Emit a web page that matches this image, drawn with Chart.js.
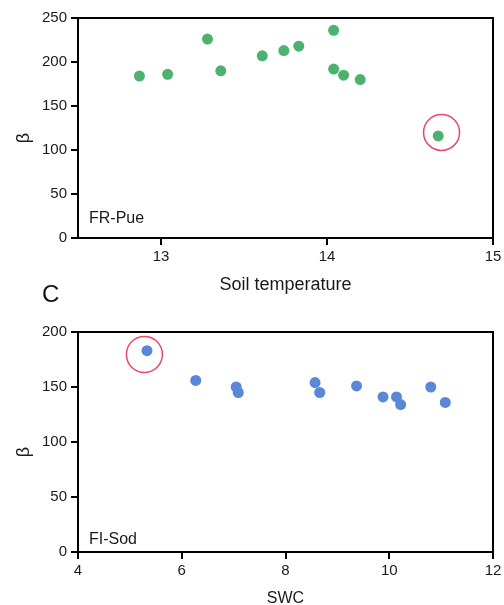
<!DOCTYPE html>
<html>
<head>
<meta charset="utf-8">
<script src="https://cdn.jsdelivr.net/npm/chart.js@4"></script>
<style>
  html, body { margin: 0; padding: 0; background: #fff; }
  body { width: 504px; height: 605px; position: relative; overflow: hidden; font-family: "Liberation Sans", Arial, sans-serif; }
  .box { position: absolute; left: 0; width: 504px; }
  #panelC { position: absolute; left: 42px; top: 280px; font-size: 24px; line-height: 1.15; color: #111; }
</style>
</head>
<body>
<div class="box" style="top:0;height:300px"><canvas id="tempChart" width="504" height="300"></canvas></div>
<div class="box" style="top:300px;height:320px"><canvas id="swcChart" width="504" height="320"></canvas></div>
<div id="panelC">C</div>

<script>
    // FR-Pue : beta vs temperature du sol
    const tempX    = [12.87, 13.04, 13.28, 13.36, 13.61, 13.74, 13.83, 14.04, 14.04, 14.10, 14.20, 14.67];
    const tempBeta = [184, 186, 226, 190, 207, 213, 218, 236, 192, 185, 180, 116];
    const tempOutlier = [{ x: 14.69, y: 120 }];
    const tempXTicks = [13, 14, 15];
    const tempYTicks = [0, 50, 100, 150, 200, 250];

    // FI-Sod : beta vs SWC
    const swcX    = [5.33, 6.27, 7.05, 7.09, 8.57, 8.66, 9.37, 9.88, 10.14, 10.22, 10.80, 11.08];
    const swcBeta = [183, 156, 150, 145, 154, 145, 151, 141, 141, 134, 150, 136];
    const swcOutlier = [{ x: 5.28, y: 179.5 }];
    const swcXTicks = [4, 6, 8, 10, 12];
    const swcYTicks = [0, 50, 100, 150, 200];

    const FONT = '"Liberation Sans", Arial, sans-serif';
    const INK = '#1a1a1a';

    // cadre complet + nom du site dans le coin
    const framePlugin = {
        id: 'frame',
        afterDraw(chart, args, opts) {
            const { ctx, chartArea: a } = chart;
            ctx.save();
            ctx.strokeStyle = '#000';
            ctx.lineWidth = 2;
            ctx.strokeRect(a.left, a.top, a.right - a.left, a.bottom - a.top);
            ctx.fillStyle = INK;
            ctx.font = '16px ' + FONT;
            ctx.textBaseline = 'middle';
            ctx.fillText(opts.tag, a.left + 11, a.bottom - opts.tagLift);
            ctx.restore();
        }
    };

    function axisGrid() {
        return { display: true, drawOnChartArea: false, drawTicks: true, tickLength: 7, tickWidth: 2, tickColor: '#000', lineWidth: 2 };
    }

    function makeChart(id, o) {
        return new Chart(document.getElementById(id), {
            type: 'scatter',
            data: {
                datasets: [
                    {
                        data: o.x.map((x, i) => ({ x, y: o.y[i] })),
                        backgroundColor: o.color,
                        borderWidth: 0,
                        pointRadius: 5.5,
                        pointHoverRadius: 5.5
                    },
                    {
                        data: o.outlier,
                        backgroundColor: 'rgba(0,0,0,0)',
                        borderColor: '#e8486b',
                        borderWidth: 1.5,
                        pointRadius: 18,
                        pointHoverRadius: 18
                    }
                ]
            },
            options: {
                responsive: false,
                animation: false,
                events: [],
                layout: { autoPadding: false, padding: { left: 0, right: 11, top: o.padTop, bottom: 0 } },
                plugins: {
                    legend: { display: false },
                    tooltip: { enabled: false },
                    frame: { tag: o.tag, tagLift: o.tagLift }
                },
                scales: {
                    x: {
                        type: 'linear',
                        min: o.xMin, max: o.xMax,
                        afterBuildTicks: s => { s.ticks = o.xTicks.map(v => ({ value: v })); },
                        afterFit: s => { s.height = o.xHeight; s.paddingLeft = 0; s.paddingRight = 0; },
                        grid: axisGrid(),
                        border: { display: true, color: '#000', width: 2 },
                        ticks: { color: INK, font: { family: FONT, size: 15 }, padding: 3, maxRotation: 0 },
                        title: { display: true, text: o.xTitle, color: INK, font: { family: FONT, size: o.xTitleSize }, padding: { top: 0, bottom: o.xTitlePad } }
                    },
                    y: {
                        min: 0, max: o.yMax,
                        afterBuildTicks: s => { s.ticks = o.yTicks.map(v => ({ value: v })); },
                        afterFit: s => { s.width = 78; },
                        grid: axisGrid(),
                        border: { display: true, color: '#000', width: 2 },
                        ticks: { color: INK, font: { family: FONT, size: 15 }, padding: 4 },
                        title: { display: true, text: 'β\u00a0\u00a0\u00a0\u00a0', color: INK, font: { family: FONT, size: 18 }, padding: { top: 13, bottom: 0 } }
                    }
                }
            },
            plugins: [framePlugin]
        });
    }

    makeChart('tempChart', {
        x: tempX, y: tempBeta, outlier: tempOutlier, color: '#4db270',
        xMin: 12.5, xMax: 15, yMax: 250, xTicks: tempXTicks, yTicks: tempYTicks,
        padTop: 18, xHeight: 62, xTitle: 'Soil temperature', xTitleSize: 18, xTitlePad: 4.5,
        tag: 'FR-Pue', tagLift: 19
    });

    makeChart('swcChart', {
        x: swcX, y: swcBeta, outlier: swcOutlier, color: '#5a87d8',
        xMin: 4, xMax: 12, yMax: 200, xTicks: swcXTicks, yTicks: swcYTicks,
        padTop: 32, xHeight: 68, xTitle: 'SWC', xTitleSize: 16, xTitlePad: 12,
        tag: 'FI-Sod', tagLift: 12
    });
</script>
</body>
</html>
